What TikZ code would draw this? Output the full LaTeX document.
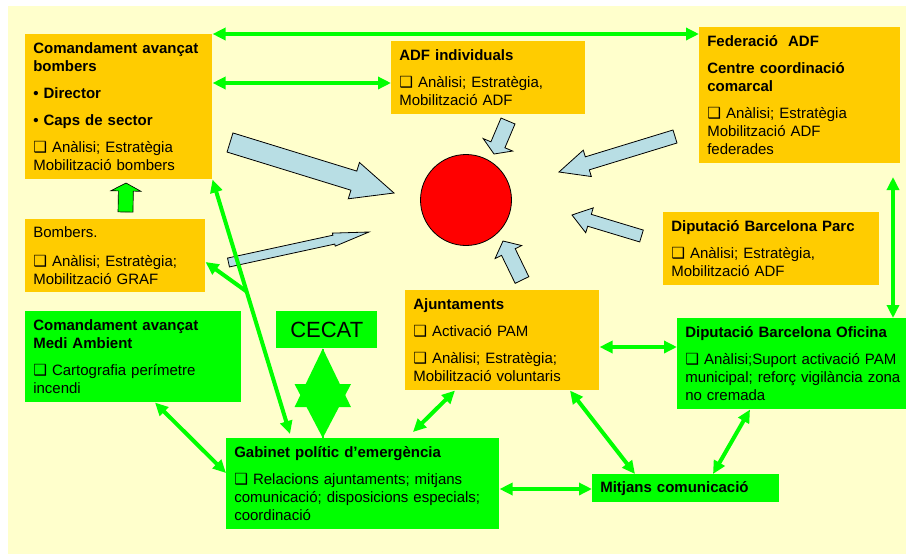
\documentclass[tikz,border=0pt]{standalone}
\usepackage{fontspec}
\setmainfont{Liberation Sans}
\newfontfamily\symfont{DejaVu Sans}
\usetikzlibrary{calc,arrows.meta}
\definecolor{bgyellow}{HTML}{FFFFCC}
\definecolor{orangebox}{HTML}{FFCC00}
\definecolor{greenbox}{HTML}{00FF00}
\definecolor{bluearrow}{HTML}{B8DEE4}
\hyphenpenalty=10000
\newcommand{\chk}{{\symfont\fontsize{11.5}{12}\selectfont ❑}}
% tail, tip, shaft half width, head half width, head length
\newcommand{\blockarrow}[6][blockarr]{%
  \coordinate (ba-t) at #2; \coordinate (ba-p) at #3;
  \coordinate (ba-h) at ($(ba-p)!#6!(ba-t)$);
  \filldraw[#1] ($(ba-t)!#4!90:(ba-p)$) -- ($(ba-h)!#4!90:(ba-p)$) -- ($(ba-h)!#5!90:(ba-p)$)
    -- (ba-p) -- ($(ba-h)!#5!-90:(ba-p)$) -- ($(ba-h)!#4!-90:(ba-p)$) -- ($(ba-t)!#4!-90:(ba-p)$) -- cycle;}
\tikzset{
  box/.style={anchor=north west, inner xsep=6pt, inner ysep=0pt, align=left,
    font=\fontsize{11.25}{13.5}\selectfont},
  obox/.style={box, fill=orangebox},
  gbox/.style={box, fill=greenbox},
  link/.style={draw=greenbox, line width=3pt, <->, >={Triangle[length=9.75pt,width=9pt]}},
  blockarr/.style={fill=bluearrow, draw=black, line width=0.6pt},
  greenarr/.style={fill=greenbox, draw=black, line width=0.5pt}
}
\begin{document}
\begin{tikzpicture}[x=0.75pt, y=-0.75pt]
\useasboundingbox (0,0) rectangle (906,554);
\fill[bgyellow] (8,6) rectangle (906,554);
\node[obox, text width=128.25pt, minimum height=108.75pt] (cab) at (25,34)
  {\bfseries Comandament avançat\\ bombers\\[6.75pt] • Director\\[6.75pt] • Caps de sector\\[6.75pt]\mdseries\chk\ Anàlisi; Estratègia\\Mobilització bombers};
\node[obox, text width=123pt, minimum height=54.75pt] (graf) at (25,219)
  {Bombers.\\[8pt]\chk\ Anàlisi; Estratègia;\\Mobilització GRAF};
\node[obox, text width=133.5pt, minimum height=54.75pt] (adf) at (391,41)
  {\bfseries ADF individuals\\[6.75pt]\mdseries\chk\ Anàlisi; Estratègia,\\Mobilització ADF};
\node[obox, text width=138.75pt, minimum height=102pt] (fed) at (699,27)
  {\bfseries Federació~ ADF\\[6.75pt] Centre coordinació\\ comarcal\\[6.75pt]\mdseries\chk\ Anàlisi; Estratègia\\Mobilització ADF\\federades};
\node[obox, text width=150pt, minimum height=54.75pt] (parc) at (663,212)
  {\bfseries Diputació Barcelona Parc\\[6.75pt]\mdseries\chk\ Anàlisi; Estratègia,\\Mobilització ADF};
\node[gbox, text width=150pt, minimum height=68.25pt] (medi) at (25,311)
  {\bfseries Comandament avançat\\ Medi Ambient\\[6.75pt]\mdseries\chk\ Cartografia perímetre\\incendi};
\node[fill=greenbox, anchor=north west, minimum width=75.75pt, minimum height=27.75pt, inner sep=0pt,
  font=\fontsize{16.5}{19}\selectfont] (cecat) at (276,311) {CECAT};
\node[gbox, text width=192.75pt, minimum height=68.25pt] (gab) at (226,438)
  {\bfseries Gabinet polític d’emergència\\[6.75pt]\mdseries\chk\ Relacions ajuntaments; mitjans\\comunicació; disposicions especials;\\coordinació};
\node[obox, text width=133.5pt, minimum height=75pt] (ajun) at (405,290)
  {\bfseries Ajuntaments\\[6.75pt]\mdseries\chk\ Activació PAM\\[6.75pt]\chk\ Anàlisi; Estratègia;\\Mobilització voluntaris};
\node[gbox, text width=168pt, minimum height=68.25pt] (ofi) at (677,318)
  {\bfseries Diputació Barcelona Oficina\\[6.75pt]\mdseries\chk\ Anàlisi;Suport activació PAM\\municipal; reforç vigilància zona\\no cremada};
\node[gbox, text width=128.25pt, minimum height=21pt] (mit) at (592,474)
  {\bfseries Mitjans comunicació};
\node[circle, fill=red, draw=black, line width=0.6pt, minimum size=68.25pt, inner sep=0pt] (fire) at (466,200){};
\blockarrow{(230,142.5)}{(394,193)}{7.5pt}{14.25pt}{31.5pt}
\blockarrow{(228.5,262.5)}{(369,232)}{3.4pt}{5pt}{27pt}
\blockarrow{(508,121)}{(494,154)}{5.7pt}{12pt}{7.5pt}
\blockarrow{(675,136.5)}{(559,172)}{5.1pt}{10.35pt}{22.2pt}
\blockarrow{(641.5,236)}{(572,215)}{4.65pt}{9.75pt}{13.7pt}
\blockarrow{(522,280)}{(503,241)}{5.7pt}{11.1pt}{9.2pt}
\blockarrow[greenarr]{(125.5,212)}{(126,183)}{5.6pt}{11.25pt}{6pt}
\draw[link] (cab.north east) -- (cab.north east -| fed.west);
\draw[link] ($(cab.north east)+(0,49)$) coordinate (l2) -- (l2 -| adf.west);
\coordinate (fedgap) at (893,177);
\draw[link] (fedgap) -- (fedgap |- ofi.north);
\draw[link] (cab.south east) -- coordinate[pos=0.44] (fork) ($(gab.north west)+(64,-4)$);
\draw[link, ->] (fork) -- ($(graf.north east)+(0,43)$);
\draw[greenbox, line width=1.5pt, -{Triangle[length=40.5pt,width=42pt]}] ($(cecat.south)+(-4,0)$) coordinate (cc) -- (cc |- gab.north);
\draw[greenbox, line width=1.5pt, -{Triangle[length=44pt,width=42pt]}] (cc |- gab.north) -- (cc);
\draw[link] ($(medi.south west)+(130,0)$) -- ($(gab.north west)+(0,35)$);
\draw[link] ($(gab.north west)+(187,-6)$) -- ($(ajun.south west)+(50,0)$);
\draw[link] ($(ajun.north east)+(0,57)$) coordinate (l8) -- (l8 -| ofi.west);
\draw[link] ($(ajun.south west)+(165,0)$) -- ($(mit.north west)+(43,0)$);
\draw[link] ($(ofi.south west)+(73,0)$) -- ($(mit.north west)+(121,0)$);
\draw[link] ($(gab.north east)+(0,51)$) coordinate (l11) -- (l11 -| mit.west);
\end{tikzpicture}
\end{document}
